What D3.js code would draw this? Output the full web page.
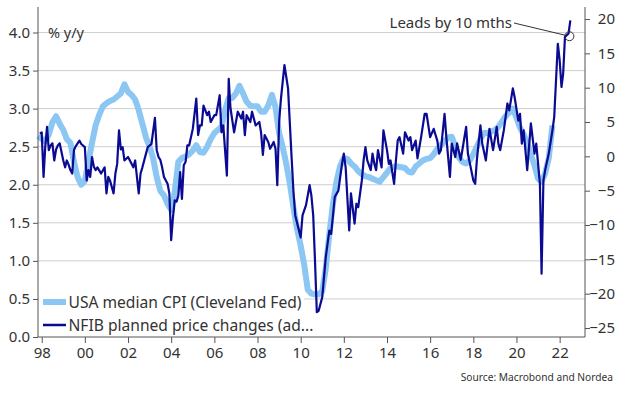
<!DOCTYPE html>
<html>
<head>
<meta charset="utf-8">
<script src="https://d3js.org/d3.v7.min.js"></script>
<style>
  body { margin: 0; background: #fff; }
  text { font-family: "Noto Sans", sans-serif; fill: #333; }
</style>
</head>
<body>
<script>
// Cleveland Fed median CPI, % y/y (left axis)
const cpiMedian = [
  ["1997-11", 2.64], ["1998-01", 2.60], ["1998-03", 2.57], ["1998-05", 2.66], ["1998-07", 2.82],
  ["1998-09", 2.90], ["1998-11", 2.80], ["1999-01", 2.72], ["1999-03", 2.60], ["1999-05", 2.55],
  ["1999-07", 2.30], ["1999-09", 2.10], ["1999-11", 2.00], ["2000-01", 2.05], ["2000-03", 2.30],
  ["2000-05", 2.55], ["2000-07", 2.78], ["2000-09", 2.92], ["2000-11", 3.03], ["2001-01", 3.07],
  ["2001-03", 3.10], ["2001-05", 3.12], ["2001-07", 3.16], ["2001-09", 3.20], ["2001-11", 3.32],
  ["2002-01", 3.22], ["2002-03", 3.18], ["2002-05", 3.12], ["2002-07", 2.98], ["2002-09", 2.80],
  ["2002-11", 2.62], ["2003-01", 2.50], ["2003-03", 2.35], ["2003-05", 2.10], ["2003-07", 1.92],
  ["2003-09", 1.86], ["2003-11", 1.75], ["2004-01", 1.67], ["2004-03", 1.90], ["2004-05", 2.30],
  ["2004-07", 2.35], ["2004-09", 2.37], ["2004-11", 2.40], ["2005-01", 2.45], ["2005-03", 2.52],
  ["2005-05", 2.43], ["2005-07", 2.42], ["2005-09", 2.50], ["2005-11", 2.60], ["2006-01", 2.68],
  ["2006-03", 2.72], ["2006-05", 2.76], ["2006-07", 2.98], ["2006-09", 3.14], ["2006-11", 3.14],
  ["2007-01", 3.20], ["2007-03", 3.30], ["2007-05", 3.20], ["2007-07", 3.09], ["2007-09", 3.04],
  ["2007-11", 3.03], ["2008-01", 3.03], ["2008-03", 2.96], ["2008-05", 2.96], ["2008-07", 3.04],
  ["2008-09", 3.18], ["2008-11", 3.02], ["2009-01", 2.68], ["2009-03", 2.50], ["2009-05", 2.28],
  ["2009-07", 2.02], ["2009-09", 1.70], ["2009-11", 1.42], ["2010-01", 1.20], ["2010-03", 0.95],
  ["2010-05", 0.62], ["2010-07", 0.57], ["2010-09", 0.56], ["2010-11", 0.56], ["2011-01", 0.60],
  ["2011-03", 0.90], ["2011-05", 1.35], ["2011-07", 1.75], ["2011-09", 2.05], ["2011-11", 2.25],
  ["2012-01", 2.35], ["2012-03", 2.34], ["2012-05", 2.28], ["2012-07", 2.24], ["2012-09", 2.18],
  ["2012-11", 2.14], ["2013-01", 2.11], ["2013-03", 2.10], ["2013-05", 2.08], ["2013-07", 2.06],
  ["2013-09", 2.04], ["2013-11", 2.10], ["2014-01", 2.16], ["2014-03", 2.22], ["2014-05", 2.24],
  ["2014-07", 2.24], ["2014-09", 2.23], ["2014-11", 2.22], ["2015-01", 2.17], ["2015-03", 2.16],
  ["2015-05", 2.24], ["2015-07", 2.28], ["2015-09", 2.32], ["2015-11", 2.34], ["2016-01", 2.35],
  ["2016-03", 2.40], ["2016-05", 2.47], ["2016-07", 2.52], ["2016-09", 2.57], ["2016-11", 2.62],
  ["2017-01", 2.63], ["2017-03", 2.50], ["2017-05", 2.36], ["2017-07", 2.30], ["2017-09", 2.28],
  ["2017-11", 2.32], ["2018-01", 2.40], ["2018-03", 2.50], ["2018-05", 2.60], ["2018-07", 2.68],
  ["2018-09", 2.68], ["2018-11", 2.70], ["2019-01", 2.72], ["2019-03", 2.76], ["2019-05", 2.83],
  ["2019-07", 2.90], ["2019-09", 2.95], ["2019-11", 3.00], ["2020-01", 2.88], ["2020-03", 2.75],
  ["2020-05", 2.66], ["2020-07", 2.55], ["2020-09", 2.40], ["2020-11", 2.25], ["2021-01", 2.08],
  ["2021-03", 2.04], ["2021-05", 2.15], ["2021-07", 2.35], ["2021-09", 2.78]
];

// NFIB planned price changes (right axis), dates already moved 10 months forward
const nfibPlanned = [
  ["1997-12", 3.3], ["1998-01", 3.5], ["1998-02", -3.0], ["1998-03", 1.3], ["1998-04", 4.3],
  ["1998-05", 0.9], ["1998-06", 1.6], ["1998-07", 1.9], ["1998-08", -0.6], ["1998-09", 1.0],
  ["1998-10", 1.6], ["1998-11", 1.9], ["1999-01", -0.6], ["1999-02", -1.6], ["1999-03", -0.6],
  ["1999-04", -1.2], ["1999-05", -2.0], ["1999-06", -2.5], ["1999-07", 0.9], ["1999-08", 1.5],
  ["1999-10", 2.3], ["1999-11", 1.8], ["2000-01", 1.35], ["2000-02", -3.5], ["2000-03", -2.0],
  ["2000-04", -3.0], ["2000-05", -0.1], ["2000-06", -1.5], ["2000-07", -2.0], ["2000-08", -1.6],
  ["2000-10", -2.5], ["2000-12", -1.6], ["2001-01", -5.4], ["2001-02", -3.0], ["2001-03", -3.5],
  ["2001-05", -5.4], ["2001-06", -2.5], ["2001-07", -1.1], ["2001-08", 3.8], ["2001-09", 1.0],
  ["2001-10", 1.35], ["2001-11", -0.6], ["2002-01", -0.1], ["2002-02", -0.6], ["2002-04", -1.6],
  ["2002-05", -0.6], ["2002-07", -5.4], ["2002-08", -2.5], ["2002-09", -1.6], ["2002-11", 0.4],
  ["2002-12", 1.35], ["2003-02", 1.8], ["2003-04", 5.6], ["2003-05", 0.9], ["2003-06", -0.1],
  ["2003-07", -0.5], ["2003-08", -1.6], ["2003-09", -3.0], ["2003-11", -4.0], ["2003-12", -5.4],
  ["2004-01", -12.2], ["2004-02", -8.8], ["2004-03", -6.4], ["2004-04", -6.6], ["2004-05", -5.7],
  ["2004-06", -2.3], ["2004-07", -6.2], ["2004-08", -1.3], ["2004-09", -0.8], ["2004-10", 1.6],
  ["2004-11", 1.6], ["2005-01", 4.0], ["2005-03", 8.4], ["2005-04", 3.1], ["2005-05", 4.5],
  ["2005-06", 4.5], ["2005-07", 7.4], ["2005-09", 6.0], ["2005-10", 6.5], ["2005-11", 5.0],
  ["2006-01", 6.0], ["2006-02", 6.0], ["2006-04", 8.9], ["2006-05", 3.5], ["2006-06", 4.5],
  ["2006-08", -2.8], ["2006-09", 11.3], ["2006-10", 7.0], ["2006-12", 3.5], ["2007-02", 6.5],
  ["2007-04", 5.5], ["2007-05", 6.5], ["2007-06", 3.1], ["2007-07", 6.0], ["2007-09", 5.0],
  ["2007-10", 6.5], ["2007-12", 4.5], ["2008-02", 5.0], ["2008-03", 3.5], ["2008-04", 0.2],
  ["2008-05", 3.1], ["2008-07", 2.1], ["2008-08", 1.1], ["2008-10", 2.1], ["2008-11", 1.1],
  ["2008-12", -4.2], ["2009-01", 5.0], ["2009-02", 8.4], ["2009-04", 13.3], ["2009-06", 9.9],
  ["2009-08", -0.3], ["2009-09", -5.2], ["2009-10", -8.6], ["2010-01", -11.8], ["2010-02", -8.6],
  ["2010-04", -7.1], ["2010-06", -4.2], ["2010-07", -5.7], ["2010-08", -8.6], ["2010-09", -15.4],
  ["2010-10", -22.7], ["2010-11", -22.5], ["2011-01", -20.5], ["2011-03", -14.7], ["2011-05", -10.8],
  ["2011-06", -11.3], ["2011-08", -5.9], ["2011-10", -5.0], ["2011-12", -1.1], ["2012-01", 0.4],
  ["2012-02", -1.6], ["2012-04", -10.8], ["2012-05", -5.4], ["2012-07", -9.8], ["2012-08", -6.9],
  ["2012-09", -7.4], ["2012-11", -3.5], ["2012-12", -0.6], ["2013-01", 1.35], ["2013-02", -0.6],
  ["2013-04", -2.0], ["2013-05", 0.4], ["2013-06", -1.1], ["2013-07", -2.0], ["2013-08", 0.9],
  ["2013-10", -1.6], ["2013-11", 3.8], ["2014-01", 0.9], ["2014-02", -1.1], ["2014-03", -0.6],
  ["2014-05", -4.0], ["2014-06", -0.6], ["2014-07", 2.3], ["2014-08", 2.8], ["2014-10", 0.4],
  ["2014-11", 3.5], ["2015-01", 2.3], ["2015-02", 2.8], ["2015-03", 0.9], ["2015-05", 2.3],
  ["2015-06", -0.3], ["2015-08", 2.8], ["2015-10", 6.2], ["2015-11", 6.2], ["2016-01", 2.8],
  ["2016-03", 4.0], ["2016-05", 2.3], ["2016-06", 0.4], ["2016-07", 0.9], ["2016-09", 6.2],
  ["2016-10", 2.8], ["2016-12", -3.0], ["2017-01", 1.85], ["2017-03", -0.1], ["2017-04", 1.9],
  ["2017-06", -0.5], ["2017-07", 1.0], ["2017-09", 4.3], ["2017-10", 0.4], ["2018-01", -3.5],
  ["2018-02", -4.0], ["2018-03", -0.6], ["2018-05", 4.5], ["2018-06", 1.85], ["2018-08", -0.6],
  ["2018-09", 1.85], ["2018-10", 4.0], ["2018-12", 0.9], ["2019-02", 4.3], ["2019-03", 1.85],
  ["2019-04", 0.9], ["2019-06", 3.8], ["2019-08", 7.7], ["2019-09", 6.7], ["2019-11", 9.9],
  ["2019-12", 8.6], ["2020-02", 5.2], ["2020-03", 6.2], ["2020-04", 1.85], ["2020-05", 3.8],
  ["2020-07", -2.0], ["2020-09", 4.8], ["2020-11", 0.4], ["2020-12", 1.85], ["2021-02", -4.0],
  ["2021-03", -17.1], ["2021-04", -3.5], ["2021-05", -2.0], ["2021-07", 0.4], ["2021-09", 3.8],
  ["2021-10", 5.7], ["2021-12", 16.4], ["2022-01", 14.0], ["2022-02", 10.1], ["2022-03", 12.0],
  ["2022-04", 17.4], ["2022-06", 17.9], ["2022-07", 19.8]
];

const leftTicks = [0, 0.5, 1, 1.5, 2, 2.5, 3, 3.5, 4];
const rightTicks = [-25, -20, -15, -10, -5, 0, 5, 10, 15, 20];
const yearTicks = [1998, 2000, 2002, 2004, 2006, 2008, 2010, 2012, 2014, 2016, 2018, 2020, 2022];
const seriesNames = ["USA median CPI (Cleveland Fed)", "NFIB planned price changes (ad..."];
const annotation = { label: "Leads by 10 mths", date: "2022-06-15", value: 17.5 };

const lightBlue = "#8cc6f3", darkBlue = "#0a0a92";
const W = 624, H = 394;
const plot = { left: 38, right: 585, top: 7, bottom: 337 };

const parseMonth = d3.timeParse("%Y-%m");

const svg = d3.select("body").append("svg")
  .attr("width", W)
  .attr("height", H);

// Scales
const x = d3.scaleTime()
  .domain([new Date(1997, 9, 30), new Date(2023, 2, 6)])
  .range([plot.left, plot.right]);
const yL = d3.scaleLinear().domain([0, 4.335]).range([plot.bottom, plot.top]);
const yR = d3.scaleLinear().domain([-26.31, 21.75]).range([plot.bottom, plot.top]);

// Gridlines
svg.append("g")
  .selectAll("line")
  .data(leftTicks.filter(d => d > 0))
  .join("line")
    .attr("x1", plot.left).attr("x2", plot.right)
    .attr("y1", d => yL(d)).attr("y2", d => yL(d))
    .attr("stroke", "#cfcfcf").attr("stroke-width", 1);

// Legend box sits under the series
svg.append("rect")
  .attr("x", plot.left + 1).attr("y", 287)
  .attr("width", 265).attr("height", 49)
  .attr("fill", "#fff");

// Series
const lineL = d3.line().x(d => x(parseMonth(d[0]))).y(d => yL(d[1]));
const lineR = d3.line().x(d => x(parseMonth(d[0]))).y(d => yR(d[1]));

svg.append("path")
  .datum(cpiMedian)
  .attr("fill", "none")
  .attr("stroke", lightBlue)
  .attr("stroke-width", 6)
  .attr("stroke-linejoin", "round")
  .attr("d", lineL);

svg.append("path")
  .datum(nfibPlanned)
  .attr("fill", "none")
  .attr("stroke", darkBlue)
  .attr("stroke-width", 2.2)
  .attr("stroke-linejoin", "round")
  .attr("d", lineR);

// Axes
const axisColor = "#555";
const gL = svg.append("g")
  .attr("transform", `translate(${plot.left},0)`)
  .call(d3.axisLeft(yL).tickValues(leftTicks).tickFormat(d3.format(".1f")).tickSize(5).tickPadding(3));
const gR = svg.append("g")
  .attr("transform", `translate(${plot.right},0)`)
  .call(d3.axisRight(yR).tickValues(rightTicks).tickSize(5).tickPadding(4));
const gX = svg.append("g")
  .attr("transform", `translate(0,${plot.bottom})`)
  .call(d3.axisBottom(x).tickValues(yearTicks.map(d => new Date(d, 0, 1)))
    .tickFormat(d3.timeFormat("%y")).tickSize(6).tickPadding(4));

[gL, gR, gX].forEach(g => {
  g.select(".domain").remove();
  g.selectAll(".tick line").attr("stroke", axisColor);
  g.selectAll(".tick text").attr("font-size", 15).attr("font-family", "Noto Sans, sans-serif").attr("fill", "#333");
});
gR.selectAll(".tick text").attr("text-anchor", "end").attr("x", 30);

// Axis lines
svg.append("line").attr("x1", plot.left).attr("x2", plot.left)
  .attr("y1", plot.top).attr("y2", plot.bottom).attr("stroke", axisColor);
svg.append("line").attr("x1", plot.right).attr("x2", plot.right)
  .attr("y1", plot.top).attr("y2", plot.bottom).attr("stroke", axisColor);
svg.append("line").attr("x1", plot.left).attr("x2", plot.right)
  .attr("y1", plot.bottom).attr("y2", plot.bottom).attr("stroke", axisColor);

// Unit label
svg.append("text")
  .attr("x", 48).attr("y", 38)
  .attr("font-size", 14.5)
  .text("% y/y");

// Legend
const legend = svg.append("g").attr("transform", "translate(43,302)");
[lightBlue, darkBlue].forEach((c, i) => {
  legend.append("line")
    .attr("x1", 0).attr("x2", 23)
    .attr("y1", i * 23).attr("y2", i * 23)
    .attr("stroke", c)
    .attr("stroke-width", i === 0 ? 6 : 2.5);
  legend.append("text")
    .attr("x", 25.5).attr("y", i * 23 + 5.5)
    .attr("font-size", 15.6)
    .text(seriesNames[i]);
});

// Annotation
const cx = x(new Date(annotation.date)), cy = yR(annotation.value), r = 4.5;
const tx = 512, ty = 23;
const ang = Math.atan2(cy - ty, cx - tx);
svg.append("circle")
  .attr("cx", cx).attr("cy", cy).attr("r", r)
  .attr("fill", "none").attr("stroke", "#333").attr("stroke-width", 1);
svg.append("line")
  .attr("x1", tx + 2).attr("y1", ty)
  .attr("x2", cx - r * Math.cos(ang)).attr("y2", cy - r * Math.sin(ang))
  .attr("stroke", "#333").attr("stroke-width", 1);
svg.append("text")
  .attr("x", tx).attr("y", 28)
  .attr("text-anchor", "end")
  .attr("font-size", 15)
  .text(annotation.label);

// Source
svg.append("text")
  .attr("x", 613).attr("y", 381)
  .attr("text-anchor", "end")
  .attr("font-size", 10.2)
  .attr("fill", "#444")
  .text("Source: Macrobond and Nordea");
</script>
</body>
</html>
